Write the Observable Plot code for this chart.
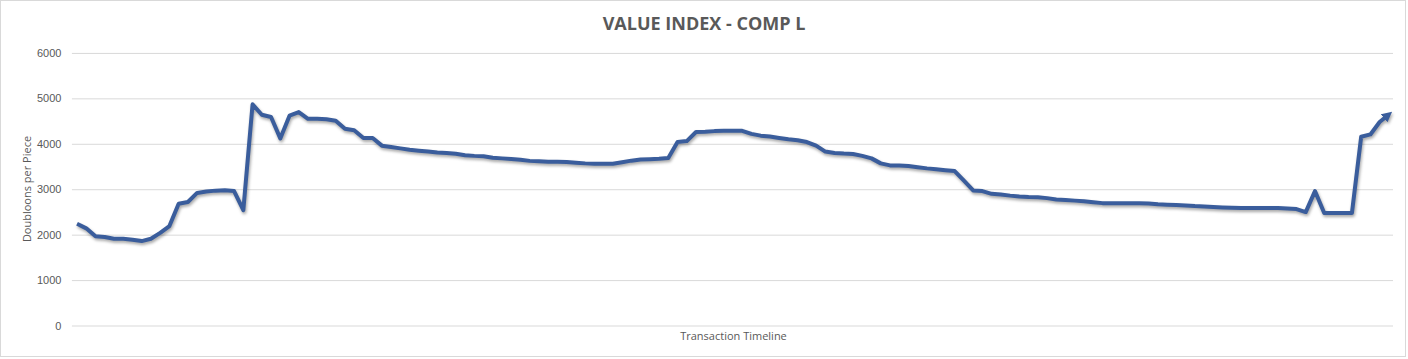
<!DOCTYPE html>
<html>
<head>
<meta charset="utf-8">
<script src="https://cdn.jsdelivr.net/npm/d3@7"></script>
<script src="https://cdn.jsdelivr.net/npm/@observablehq/plot@0.6"></script>
<style>
  html, body { margin: 0; padding: 0; background: #fff; }
  #frame { position: relative; width: 1406px; height: 357px; border: 1px solid #d9d9d9; box-sizing: border-box; overflow: hidden; background: #fff; }
  #chart { position: absolute; left: 0; top: 0; }
  .title { position: absolute; left: 0; width: 1406px; top: 10px; text-align: center; font-family: "Open Sans", sans-serif; font-weight: 700; font-size: 18px; color: #595959; }
  .xlabel { position: absolute; left: 71px; width: 1323px; top: 327px; text-align: center; font-family: "Open Sans", sans-serif; font-size: 11px; color: #595959; }
  .ylabel { position: absolute; left: 25px; top: 188px; transform: translate(-50%, -50%) rotate(-90deg); white-space: nowrap; font-family: "Open Sans", sans-serif; font-size: 11px; color: #595959; }
</style>
</head>
<body>
<div id="frame">
  <div id="chart"></div>
  <div class="title" id="title"></div>
  <div class="xlabel" id="xlabel"></div>
  <div class="ylabel" id="ylabel"></div>
</div>
<script>
const chartTitle = "VALUE INDEX - COMP L";
const xAxisTitle = "Transaction Timeline";
const yAxisTitle = "Doubloons per Piece";
const yTicks = [0, 1000, 2000, 3000, 4000, 5000, 6000];

// Doubloons per piece, one value per transaction
const doubloonsPerPiece = [
  2250, 2150, 1975, 1960, 1920, 1920, 1900, 1870, 1920, 2050,
  2200, 2690, 2730, 2930, 2960, 2980, 2990, 2970, 2550, 4880,
  4650, 4600, 4130, 4630, 4710, 4560, 4560, 4550, 4520, 4340,
  4310, 4140, 4140, 3970, 3940, 3910, 3880, 3860, 3840, 3820,
  3810, 3790, 3760, 3745, 3735, 3705, 3690, 3675, 3660, 3635,
  3625, 3615, 3615, 3612, 3595, 3580, 3571, 3571, 3570, 3605,
  3640, 3665, 3672, 3680, 3700, 4050, 4070, 4270, 4275, 4290,
  4297, 4297, 4297, 4230, 4190, 4170, 4140, 4110, 4090, 4050,
  3970, 3840, 3810, 3795, 3785, 3745, 3690, 3580, 3535, 3535,
  3520, 3495, 3470, 3450, 3430, 3410, 3200, 2985, 2970, 2910,
  2895, 2870, 2850, 2838, 2835, 2815, 2785, 2775, 2760, 2745,
  2725, 2705, 2700, 2700, 2700, 2700, 2698, 2680, 2672, 2665,
  2655, 2640, 2630, 2618, 2610, 2603, 2596, 2596, 2596, 2596,
  2596, 2585, 2575, 2508, 2970, 2486, 2486, 2486, 2486, 4165,
  4217, 4490, 4657
];

const lineColor = "#3a5d9c";
const rows = doubloonsPerPiece.map((v, i) => ({ i, v }));

document.getElementById("title").textContent = chartTitle;
document.getElementById("xlabel").textContent = xAxisTitle;
document.getElementById("ylabel").textContent = yAxisTitle;

const plot = Plot.plot({
  width: 1406,
  height: 357,
  marginLeft: 71,
  marginRight: 12,
  marginTop: 52,
  marginBottom: 32,
  style: { fontFamily: "'Liberation Sans', sans-serif", fontSize: "11px", color: "#595959", background: "transparent", overflow: "visible" },
  x: { domain: [-0.5, doubloonsPerPiece.length - 0.5], axis: null },
  y: { domain: [0, 6000] },
  marks: [
    Plot.ruleY(yTicks, { stroke: "#d9d9d9", strokeWidth: 1, strokeOpacity: 1 }),
    Plot.axisY(yTicks, { tickSize: 0, tickPadding: 11, label: null, tickFormat: d => String(d), fill: "#595959" }),
    Plot.line(rows, { x: "i", y: "v", stroke: lineColor, strokeWidth: 4, strokeLinejoin: "round", strokeLinecap: "butt" })
  ]
});
document.getElementById("chart").appendChild(plot);

// Excel-like filled triangle arrowhead and soft shadow on the series line
const svg = d3.select(plot);
const defs = svg.insert("defs", ":first-child");
defs.append("marker")
  .attr("id", "arrowTip")
  .attr("viewBox", "0 0 10 10")
  .attr("refX", 6)
  .attr("refY", 5)
  .attr("markerWidth", 2.6)
  .attr("markerHeight", 2.6)
  .attr("orient", "auto")
  .append("path")
  .attr("d", "M0,0L10,5L0,10z")
  .attr("fill", lineColor);
svg.selectAll("g[aria-label='line'] path")
  .attr("marker-end", "url(#arrowTip)")
  .style("filter", "drop-shadow(1px 2px 1.5px rgba(0,0,0,0.35))");
</script>
</body>
</html>
